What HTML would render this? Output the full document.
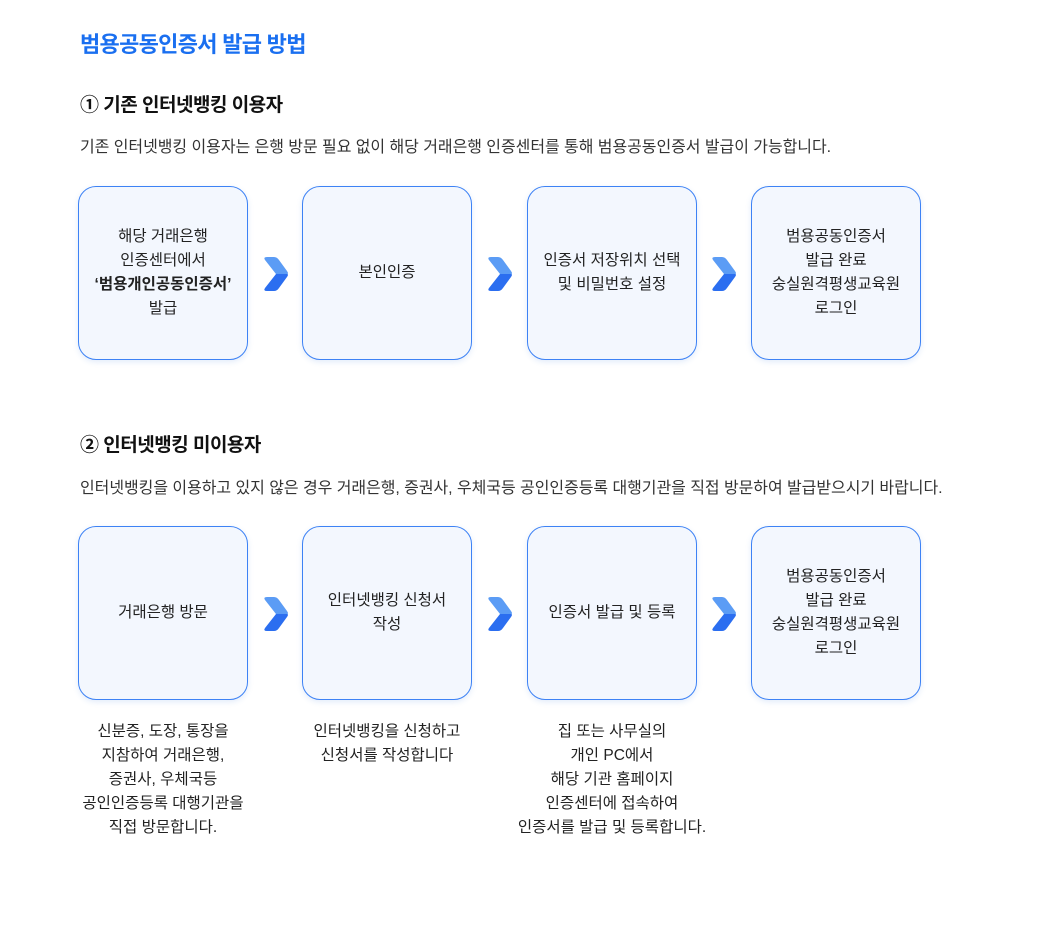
<!DOCTYPE html>
<html><head><meta charset="utf-8"><style>
*{margin:0;padding:0;box-sizing:border-box}
body{width:1040px;height:939px;background:#fff;font-family:"Liberation Sans","Noto Sans CJK KR",sans-serif;color:#222;position:relative;overflow:hidden}
.a{position:absolute;white-space:nowrap}
.t{left:80px;top:27px;font-size:22px;font-weight:bold;color:#1a6ff0;letter-spacing:-0.7px}
.h{left:80px;font-size:19px;font-weight:bold;color:#111;letter-spacing:-0.5px}
.d{left:80px;font-size:16px;color:#333;letter-spacing:-0.05px}
.b{position:absolute;width:170px;height:174px;border:1.5px solid #3d82f5;border-radius:18px;background:#f3f7fe;box-shadow:0 2px 6px rgba(60,120,220,0.15);display:flex;align-items:center;justify-content:center;text-align:center;font-size:15.5px;line-height:24px;color:#222;letter-spacing:0}
.ar{position:absolute;width:30px;height:40px}
.n{position:absolute;width:260px;text-align:center;font-size:15.5px;line-height:24px;color:#222;letter-spacing:0}
</style></head><body>
<div class="a t">범용공동인증서 발급 방법</div>
<div class="a h" style="top:90px">① 기존 인터넷뱅킹 이용자</div>
<div class="a d" style="top:133px">기존 인터넷뱅킹 이용자는 은행 방문 필요 없이 해당 거래은행 인증센터를 통해 범용공동인증서 발급이 가능합니다.</div>

<div class="b" style="left:78px;top:186px"><div>해당 거래은행<br>인증센터에서<br><b>‘범용개인공동인증서’</b><br>발급</div></div>
<div class="b" style="left:302px;top:186px"><div>본인인증</div></div>
<div class="b" style="left:527px;top:186px"><div>인증서 저장위치 선택<br>및 비밀번호 설정</div></div>
<div class="b" style="left:751px;top:186px"><div>범용공동인증서<br>발급 완료<br>숭실원격평생교육원<br>로그인</div></div>

<div class="a h" style="top:430px">② 인터넷뱅킹 미이용자</div>
<div class="a d" style="top:474px">인터넷뱅킹을 이용하고 있지 않은 경우 거래은행, 증권사, 우체국등 공인인증등록 대행기관을 직접 방문하여 발급받으시기 바랍니다.</div>

<div class="b" style="left:78px;top:526px"><div>거래은행 방문</div></div>
<div class="b" style="left:302px;top:526px"><div>인터넷뱅킹 신청서<br>작성</div></div>
<div class="b" style="left:527px;top:526px"><div>인증서 발급 및 등록</div></div>
<div class="b" style="left:751px;top:526px"><div>범용공동인증서<br>발급 완료<br>숭실원격평생교육원<br>로그인</div></div>

<div class="n" style="left:33px;top:720px">신분증, 도장, 통장을<br>지참하여 거래은행,<br>증권사, 우체국등<br>공인인증등록 대행기관을<br>직접 방문합니다.</div>
<div class="n" style="left:257px;top:720px">인터넷뱅킹을 신청하고<br>신청서를 작성합니다</div>
<div class="n" style="left:482px;top:720px">집 또는 사무실의<br>개인 PC에서<br>해당 기관 홈페이지<br>인증센터에 접속하여<br>인증서를 발급 및 등록합니다.</div>

<svg width="1040" height="939" style="position:absolute;left:0;top:0" >
<defs>
<symbol id="chev" viewBox="0 0 28 38">
<path d="M4 5 Q2 2 6 2 L13 2 Q16 2 18 5 L26 16 Q28 19 26 19 L15 19 Z" fill="#5b9cf5"/>
<path d="M15 19 L26 19 Q28 19 26 22 L18 33 Q16 36 13 36 L6 36 Q2 36 4 33 Z" fill="#2b6ef0"/>
</symbol>
</defs>
<use href="#chev" x="261" y="255" width="28" height="38"/>
<use href="#chev" x="485" y="255" width="28" height="38"/>
<use href="#chev" x="709" y="255" width="28" height="38"/>
<use href="#chev" x="261" y="595" width="28" height="38"/>
<use href="#chev" x="485" y="595" width="28" height="38"/>
<use href="#chev" x="709" y="595" width="28" height="38"/>
</svg>
</body></html>
